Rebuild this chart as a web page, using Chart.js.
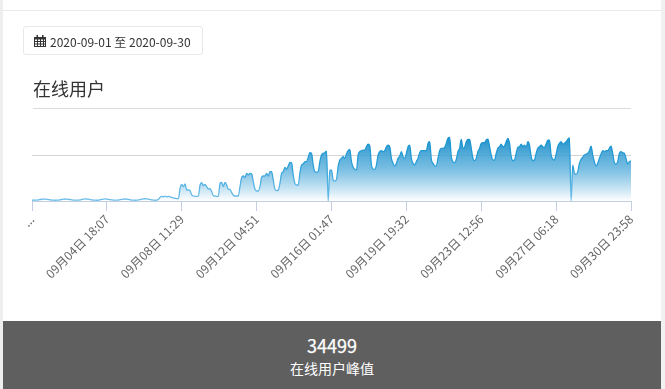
<!DOCTYPE html>
<html lang="zh">
<head>
<meta charset="utf-8">
<title>在线用户</title>
<script src="https://cdn.jsdelivr.net/npm/chart.js@4"></script>
<style>
html,body{margin:0;padding:0;background:#fff;width:665px;height:389px;overflow:hidden;font-family:"Noto Sans CJK SC","Noto Sans",sans-serif;}
#page{position:absolute;left:3px;top:10px;width:658px;height:379px;border-top:1px solid #e9e9e9;background:#fff;}
#leftbar{position:absolute;left:0;top:0;width:3px;height:389px;background:#eeeeee;}
#rightbar{position:absolute;left:661px;top:0;width:4px;height:389px;background:#f1f1f1;}
#range{position:absolute;left:23px;top:26px;width:178px;height:27px;border:1px solid #e8e8e8;border-radius:3px;font-size:12px;line-height:29px;color:#333;white-space:nowrap;background:#fff;}
#range svg{position:absolute;left:10px;top:8px;}
#range span{position:absolute;left:26px;top:0;}
#title{position:absolute;left:33px;top:76px;font-size:18px;line-height:25px;color:#333;}
#rule{position:absolute;left:33px;top:108px;width:598px;height:1px;background:#dcdcdc;}
#wrap{position:absolute;left:0;top:0;width:665px;height:320px;}
#foot{position:absolute;left:3px;top:321px;width:658px;height:68px;background:#5f5f5f;color:#fff;text-align:center;}
#peak{position:absolute;left:0;width:658px;top:12px;font-size:18px;line-height:24px;-webkit-text-stroke:0.25px #fff;}
#cap{position:absolute;left:0;width:658px;top:37px;font-size:14px;line-height:20px;}
</style>
</head>
<body>
<div id="leftbar"></div><div id="rightbar"></div><div id="page"></div>
<div id="wrap"><canvas id="c" width="665" height="320"></canvas></div>
<div id="range"><svg width="12" height="12" viewBox="0 0 12 12"><path fill="#333" d="M0 2h12v10H0z"/><path fill="#333" d="M2.5 0h1.5v3H2.500zM8 0h1.500v3H8z"/><path fill="#fff" d="M1 4.500h2v1.500H1zM4 4.500h2v1.500H4zM7 4.500h2v1.500H7zM10 4.500h1v1.500h-1zM1 7h2v1.500H1zM4 7h2v1.500H4zM7 7h2v1.500H7zM10 7h1v1.500h-1zM1 9.500h2V11H1zM4 9.500h2V11H4zM7 9.500h2V11H7zM10 9.500h1V11h-1z"/></svg><span>2020-09-01 至 2020-09-30</span></div>
<div id="title">在线用户</div>
<div id="rule"></div>
<div id="foot"><div id="peak">34499</div><div id="cap">在线用户峰值</div></div>
<script>
const seriesName = '在线用户';
const tickLabels = ['...','09月04日 18:07','09月08日 11:29','09月12日 04:51','09月16日 01:47','09月19日 19:32','09月23日 12:56','09月27日 06:18','09月30日 23:58'];
const earlyUsers = [420,430,450,520,640,820,960,1050,1020,930,800,640,520,450,420,440,520,680,850,1010,1080,1040,920,760,600,500,440,430,470,620,830,1030,1120,1080,990,780,610,490,430,420,510,700,900,1070,1130,1060,890,700,560,470,430,430,540,720,930,1040,1090,1020,860,680,520,440,410,440,560,760,980,1150,1210,1130,960,780,600,480,410,430,900,2000,2500,2300,2600,2300,2500,2300];
const risingUsers = [1990,1630,1450,1270,1270,6880,9050,7780,9230,5970,5970,5610,3260,2720,2530,2530,2720,8690,9960,8330,9050,7780,6520,6700,5070,2900,2720,2530,2530,9590,10140,7780,10140,8690,6340,6340,4530,3080,2720,2720,2720,7780,12670,13580,12670,15020,14120,15020,14660,10500,6340,5430,5430,7780,12850,13580,13580,15020,13580,15930,15930,11400,6340,5610,5970,9590,15020,15930,18280,17200,19000,21000,20820,14120,9590,8690,8690,15020,19550,20090,21360,21360,23710,26250,25880,19550,15930,15570,15930,21360,24980,25880,26250,27150,0];
const plateauUsers = [16830,16830,11400,10860,11770,18640,22260,23170,24070,23170,25520,27330,28060,21360,18280,17200,16830,24980,26790,27330,27690,27690,29500,30950,29870,19550,17380,17200,19550,24980,26790,27330,26790,27330,29500,30410,29500,23170,20450,19000,20450,23170,24440,26790,24070,23170,25880,29500,30410,23170,20450,19550,21360,23170,26250,27330,27330,27330,27330,31310,32220,22630,20450,19190,19000,23170,27330,28600,28600,29140,31310,34030,34499,24070,21360,20820,22630,26790,28600,33490,28600,29140,32220,33490,33490,28600,23170,21900,23170,26790,28600];
const lateUsers = [31310,31680,31680,33120,33670,29500,24980,22260,22260,25880,28600,29500,30950,29500,29870,32220,34030,31310,24070,21900,22260,25880,29140,29500,30950,29500,30410,29140,32220,30410,24070,21900,22260,25880,28600,29500,30410,29500,29140,30950,33120,33120,24980,22630,22260,25520,29500,31310,32220,30950,31310,32220,33490,34300,0,19550,15020,14480,15930,20450,22630,23710,24980,25520,25880,27330,29870,24980,21360,19000,20450,23170,25520,27330,26790,27330,27330,28600,29870,25880,20820,20090,21360,25880,26790,26250,25880,23170,20090,21360,21900];
const users = [...earlyUsers, ...risingUsers, ...plateauUsers, ...lateUsers];
const tickEvery = 45;
const categories = users.map((_, i) => i % tickEvery === 0 ? (tickLabels[i / tickEvery] || '') : '');
const gridMax = 50000, gridStep = 25000;

function vGrad(c, stops) {
  const chart = c.chart, area = chart.chartArea;
  if (!area) return stops[0][1];
  const span = area.bottom - area.top;
  const top = area.bottom - span * 34499 / gridMax;
  const g = chart.ctx.createLinearGradient(0, top, 0, area.bottom);
  stops.forEach(s => g.addColorStop(s[0], s[1]));
  return g;
}
new Chart(document.getElementById('c'), {
  type: 'line',
  data: {
    labels: categories,
    datasets: [{
      label: seriesName,
      data: users,
      pointRadius: 0,
      borderWidth: 1.3,
      cubicInterpolationMode: 'monotone',
      fill: 'origin',
      borderColor: c => vGrad(c, [[0,'#1593cf'],[0.45,'#2a9fd8'],[0.75,'#58b3e3'],[1,'#6cbde8']]),
      backgroundColor: c => vGrad(c, [[0,'rgba(22,140,200,0.95)'],[0.5,'rgba(90,175,220,0.8)'],[1,'rgba(255,255,255,0.9)']])
    }]
  },
  options: {
    responsive: false,
    animation: false,
    layout: { padding: { left: 32, right: 34, top: 109, bottom: 0 } },
    plugins: { legend: { display: false }, tooltip: { enabled: false } },
    scales: {
      x: {
        type: 'category',
        offset: false,
        afterFit: s => { s.height = 119; },
        afterBuildTicks: s => { s.ticks = s.ticks.filter(t => t.value % tickEvery === 0); },
        border: { display: true, color: '#c3cfe0', width: 1 },
        grid: { display: true, drawOnChartArea: false, drawTicks: true, tickLength: 10, tickColor: '#c3cfe0', tickWidth: 1 },
        ticks: { autoSkip: false, maxRotation: 45, minRotation: 45, padding: 1, color: '#666', font: { family: '"Noto Sans CJK SC"', size: 12 } }
      },
      y: {
        min: 0, max: gridMax,
        afterFit: s => { s.width = 0; },
        border: { display: false },
        grid: { drawTicks: false, color: c => c.tick.value === gridStep ? '#d4d4d4' : 'rgba(0,0,0,0)' },
        ticks: { display: false, stepSize: gridStep }
      }
    }
  }
});
</script>
</body>
</html>
